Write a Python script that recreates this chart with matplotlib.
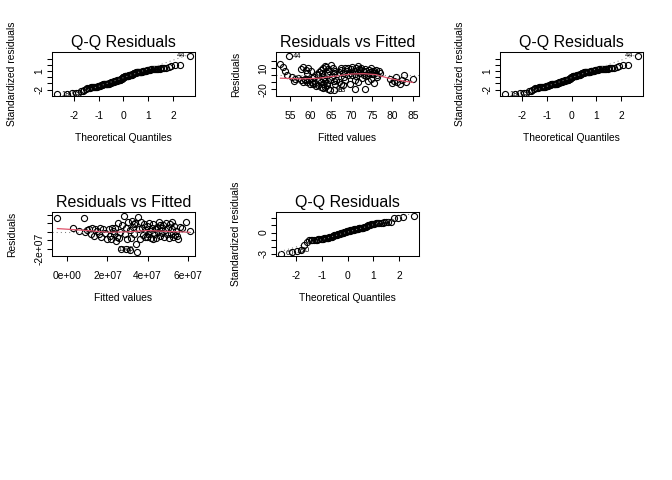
import numpy as np
import matplotlib
matplotlib.use("Agg")
import matplotlib.pyplot as plt
from statistics import NormalDist

plt.rcParams['font.family'] = ['Liberation Sans', 'DejaVu Sans']

# --- model A: fitted values / residuals (read from "Residuals vs Fitted", top middle) ---
fitted_a = [
    52.6, 53.3, 53.8, 54.6, 54.2, 55.3, 56.2, 57.0, 55.8, 57.5,
    57.6, 58.2, 58.8, 59.4, 60.0, 59.0, 58.5, 59.6, 60.3, 60.8, 58.0, 59.0, 59.8, 60.5, 61.0, 60.2, 61.3, 58.6,
    61.5, 62.0, 62.5, 63.0, 63.4, 63.8, 64.2, 64.5, 65.0, 65.5, 62.8, 64.0, 61.8, 63.2, 65.8, 66.0,
    62.0, 62.5, 63.0, 63.5, 64.0, 64.6, 65.2, 65.7, 66.2,
    61.8, 62.4, 63.0, 63.6, 64.2, 64.8, 65.6, 66.0, 63.9, 62.9,
    66.5, 67.0, 67.5, 68.0, 68.4, 68.8, 69.2, 69.5, 69.8, 70.2, 70.5, 70.8, 71.2, 71.5, 71.8, 72.1,
    72.4, 72.7, 73.0, 73.3, 73.6, 73.9, 74.2, 74.5, 74.8, 75.1, 75.4, 75.7, 76.0, 76.3, 76.6, 76.9,
    70.0, 71.0, 72.0, 73.5, 68.2, 69.0, 74.0, 75.0, 67.3, 71.6,
    66.8, 67.5, 68.5, 69.5, 70.9, 70.8, 71.5, 72.5, 73.2, 74.0, 74.8, 75.5, 76.3, 68.0,
    79.3, 79.8, 80.3, 80.8, 81.2, 81.8, 82.3, 82.8, 83.3, 85.0,
]
resid_a = [
    16, 12, 7, 27.4, 1, -3, -5, -4, -8, -7,
    9, 12, 8, 11, 6, 3, -5, -7, -4, -2, -9, -10, -12, -13, -11, -9, -15, -6,
    2, 5, 8, 11, 14, 12, 9, 6, 15, 10, 3, 3, 0, -2, 4, 7,
    -6, -9, -5, -8, -11, -6, -3, -8, -6,
    -14, -16, -13, -17, -19.5, -21.5, -21, -12, -14, -18,
    2, 5, 8, 3, 10, 6, 11, 4, 9, 12, 7, 2, 10, 5, 9, 3,
    11, 7, 1, 9, 6, 3, 8, 5, 10, 2, 7, 4, 8, 1, 6, 3,
    0, -1, 8, -1, -2, 1, 0, 7, 11, 13,
    -9, -12, -7, -13, -20, -6, -10, -4, -20, -8, -5, -11, -3, -14,
    -5, -11, -8, -3, -10, -12, -7, 0, -9, -5,
]
sigma_a = 7.8
ids_a = ['44', '18', '63']          # labels of the 3 largest |residuals|
smooth_a_x = [52.6, 58, 62, 66, 70, 73, 76, 79, 82, 85]
smooth_a_y = [-4, -5, -4, -1, 2, 2.5, 1, -4, -7.5, -10]

# --- model B (values in units of 1e7) ---
fitted_b = [
    -0.5, 0.85, 2.8, 3.5, 5.9,
    2.7, 3.1, 3.45, 2.9, 3.4, 2.45,
    0.3, 0.6, 0.9, 1.0, 1.1, 1.2, 1.25, 1.35, 1.4, 1.5, 1.6, 1.65, 1.7, 1.8, 1.9, 2.0, 2.1, 2.15, 2.2, 2.25,
    2.3, 2.35, 2.4, 2.5, 2.55, 2.6,
    2.65, 2.75, 2.85, 2.9, 2.95, 3.0, 3.1, 3.15, 3.2, 3.25, 3.3, 3.3, 3.35, 3.55, 3.6, 3.65, 3.7, 3.75, 3.8,
    3.85, 3.9,
    3.95, 3.95, 4.0, 4.05, 4.1, 4.15, 4.2, 4.25, 4.25, 4.3, 4.35, 4.4, 4.4, 4.45, 4.5, 4.55, 4.6, 4.6, 4.65,
    4.7, 4.75, 4.8, 4.85, 4.9, 4.95, 5.0, 5.05, 5.1, 5.15, 5.2, 5.2, 5.25, 5.3, 5.35, 5.4, 5.45, 5.5, 5.6,
    5.7, 6.1,
]
resid_b = [
    1.55, 1.55, 1.86, 1.74, 1.15,
    -2.0, -2.1, -2.3, -1.95, -1.4, -1.05,
    0.5, 0.1, -0.05, 0.2, 0.35, -0.2, 0.45, -0.45, 0.3, 0.15, -0.3, 0.4, -0.65, 0.35, -0.1, -0.8, 0.3, -0.5,
    -0.85, 0.45, 0.05, -0.3, 0.5, -0.6, 1.0, -0.75,
    0.0, 0.8, -0.2, 0.5, -0.85, 1.15, 0.2, -0.7, 1.2, 0.6, -0.3, 0.9, 1.0, 0.3, -0.8, 1.1, 0.4, -0.4, 0.9,
    -0.6, 0.2,
    0.7, -0.6, -0.3, 1.0, 0.1, -0.7, 0.5, 0.9, -0.8, -0.2, 0.3, -0.75, 0.3, 0.6, 0.0, 1.15, -0.5, 0.85, 0.4,
    -0.1, 0.8, -0.6, 0.2, 1.05, -0.3, 0.5, -0.7, 0.9, -0.2, 0.3, 1.1, -0.6, 0.7, -0.4, 0.1, -0.5, -0.8, 0.6,
    0.4, 0.15,
]
sigma_b = 0.78
ids_b = ['60', '15', '20']
smooth_b_x = [-0.5, 1.0, 2.0, 3.0, 4.0, 5.0, 6.1]
smooth_b_y = [0.38, 0.15, -0.05, 0.0, 0.15, 0.05, -0.05]
scale_b = 1e7

W, H = 672, 480
fig = plt.figure(figsize=(W / 100, H / 100), dpi=100)

DOT = (0, (1, 3))
SMALL = 7.4
PT_LBL = 5.4


def panel(col, row):
    left = 52 + 224 * col
    top = 52 + 160 * row
    return fig.add_axes([left / W, 1 - (top + 44) / H, 143 / W, 44 / H])


def style(ax, title, xlabel, ylabel, xticks, xlabels, yticks, ylabels):
    ax.set_title(title, fontsize=11.5, pad=3.6)
    ax.set_xticks(xticks, xlabels)
    ax.set_yticks(yticks, ylabels)
    ax.tick_params(direction='out', length=3.6, width=0.75, labelsize=SMALL)
    ax.tick_params(axis='x', pad=7)
    ax.tick_params(axis='y', pad=2)
    for lab in ax.get_yticklabels():
        lab.set_rotation(90)
        lab.set_va('center')
    ax.set_xlabel(xlabel, fontsize=SMALL)
    ax.set_ylabel(ylabel, fontsize=SMALL)
    ax.xaxis.set_label_coords(0.5, -0.96)
    ax.xaxis.label.set_va('center')
    ax.yaxis.set_label_coords(-0.28, 0.5)
    ax.yaxis.label.set_va('center')
    for s in ax.spines.values():
        s.set_linewidth(0.75)


def label_points(ax, xs, ys, order, names):
    mid = (min(xs) + max(xs)) / 2
    for i, name in zip(order, names):
        right = xs[i] > mid
        ax.annotate(name, (xs[i], ys[i]), xytext=(-3 if right else 3, 0),
                    textcoords='offset points', ha='right' if right else 'left',
                    va='center', fontsize=PT_LBL)


def qq_panel(ax, resid, sigma, names):
    rs = np.asarray(resid, dtype=float) / sigma
    n = len(rs)
    nd = NormalDist()
    srt = np.argsort(rs)
    theo = np.empty(n)
    theo[srt] = [nd.inv_cdf((k + 0.5) / n) for k in range(n)]
    ax.plot(theo, rs, 'o', mfc='none', mec='black', ms=4.4, mew=0.8)
    q1, q3 = np.percentile(rs, [25, 75])
    z1, z3 = nd.inv_cdf(0.25), nd.inv_cdf(0.75)
    slope = (q3 - q1) / (z3 - z1)
    ax.axline((0, q1 - slope * z1), slope=slope, color='gray', ls=DOT, lw=0.75)
    top = np.argsort(-np.abs(rs))[:3]
    label_points(ax, theo, rs, top, names)


def rvf_panel(ax, fitted, resid, sx, sy, names):
    fitted = np.asarray(fitted, dtype=float)
    resid = np.asarray(resid, dtype=float)
    ax.plot(fitted, resid, 'o', mfc='none', mec='black', ms=4.4, mew=0.8)
    ax.plot(sx, sy, color='#DF536B', lw=0.9)
    ax.axhline(0, color='gray', ls=DOT, lw=0.75)
    top = np.argsort(-np.abs(resid))[:3]
    label_points(ax, fitted, resid, top, names)


qq_ticks = [-2, -1, 0, 1, 2]
qq_tlabels = ['-2', '-1', '0', '1', '2']

# panel 1 and 3: Q-Q of model A
for col in (0, 2):
    ax = panel(col, 0)
    qq_panel(ax, resid_a, sigma_a, ids_a)
    ax.set_xlim(-2.87, 2.87)
    ax.set_ylim(-3.05, 4.1)
    style(ax, 'Q-Q Residuals', 'Theoretical Quantiles', 'Standardized residuals',
          qq_ticks, qq_tlabels, [-2, -1, 0, 1, 2, 3], ['-2', '', '', '1', '', ''])

# panel 2: residuals vs fitted, model A
ax = panel(1, 0)
rvf_panel(ax, fitted_a, resid_a, smooth_a_x, smooth_a_y, ids_a)
ax.set_xlim(51.5, 86.5)
ax.set_ylim(-29.5, 33.5)
style(ax, 'Residuals vs Fitted', 'Fitted values', 'Residuals',
      [55, 60, 65, 70, 75, 80, 85], ['55', '60', '65', '70', '75', '80', '85'],
      [-20, -10, 0, 10, 20], ['-20', '', '', '10', ''])

# panel 4: residuals vs fitted, model B
fb = np.asarray(fitted_b) * scale_b
rb = np.asarray(resid_b) * scale_b
ax = panel(0, 1)
rvf_panel(ax, fb, rb, np.asarray(smooth_b_x) * scale_b, np.asarray(smooth_b_y) * scale_b, ids_b)
ax.set_xlim(-0.77e7, 6.37e7)
ax.set_ylim(-2.8e7, 2.3e7)
style(ax, 'Residuals vs Fitted', 'Fitted values', 'Residuals',
      [0, 2e7, 4e7, 6e7], ['0e+00', '2e+07', '4e+07', '6e+07'],
      [-2e7, -1e7, 0, 1e7, 2e7], ['-2e+07', '', '', '', ''])

# panel 5: Q-Q of model B
ax = panel(1, 1)
qq_panel(ax, resid_b, sigma_b, ids_b)
ax.set_xlim(-2.78, 2.78)
ax.set_ylim(-3.3, 2.9)
style(ax, 'Q-Q Residuals', 'Theoretical Quantiles', 'Standardized residuals',
      qq_ticks, qq_tlabels, [-3, -2, -1, 0, 1, 2], ['-3', '', '', '0', '', ''])

fig.savefig('out.png', dpi=100)
